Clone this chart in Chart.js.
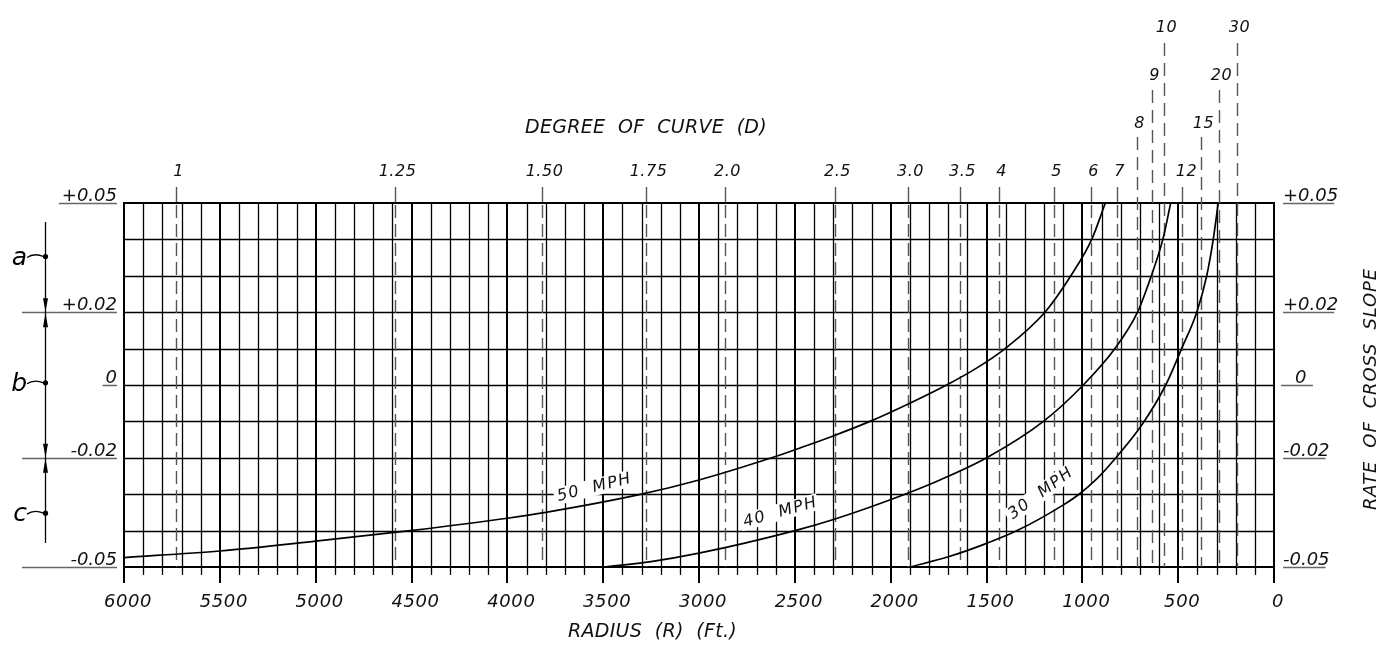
<!DOCTYPE html>
<html>
<head>
<meta charset="utf-8">
<script src="https://cdn.jsdelivr.net/npm/chart.js@4.4.0/dist/chart.umd.min.js"></script>
<style>
html, body { margin: 0; padding: 0; background: #fff; }
#wrap { width: 1380px; height: 653px; }
</style>
</head>
<body>
<div id="wrap"><canvas id="chart" width="1380" height="653"></canvas></div>
<script>
// --- data ------------------------------------------------------------
var radiusLabels = [6000, 5500, 5000, 4500, 4000, 3500, 3000, 2500, 2000, 1500, 1000, 500, 0];
var slopeValues = [0.05, 0.02, 0, -0.02, -0.05];
var slopeLabels = ["+0.05", "+0.02", "0", "-0.02", "-0.05"];
var degreeValues = [1, 1.25, 1.5, 1.75, 2, 2.5, 3, 3.5, 4, 5, 6, 7, 8, 9, 10, 12, 15, 20, 30];
var degreeLabels = ["1", "1.25", "1.50", "1.75", "2.0", "2.5", "3.0", "3.5", "4", "5", "6", "7",
    "8", "9", "10", "12", "15", "20", "30"];

// radius (ft) / rate of cross slope for each speed curve
var radius50 = [6000, 5500, 5000, 4507, 4000, 3800, 3300, 3000, 2621, 2473, 2300, 2108, 1900, 1708, 1550, 1403, 1195, 1060, 951, 880];
var slope50 = [-0.0474, -0.0456, -0.0429, -0.0400, -0.0366, -0.0350, -0.0300, -0.0261, -0.0200, -0.0173, -0.0140, -0.0100, -0.0050, 0.0, 0.0047, 0.01, 0.02, 0.03, 0.04, 0.05];
var radius40 = [3500, 3250, 3000, 2499, 2290, 1925, 1743, 1499, 1203, 995, 830, 712, 640, 580, 539];
var slope40 = [-0.05, -0.0485, -0.0462, -0.0400, -0.0368, -0.0300, -0.0261, -0.0200, -0.0100, 0.0, 0.01, 0.02, 0.03, 0.04, 0.05];
var radius30 = [1899, 1700, 1499, 1340, 1101, 1012, 925, 835, 690, 565, 482, 403, 351, 317, 291];
var slope30 = [-0.05, -0.0472, -0.0435, -0.0400, -0.0330, -0.0298, -0.0258, -0.0206, -0.0110, 0.0, 0.01, 0.02, 0.03, 0.04, 0.05];

// --- layout / style ----------------------------------------------------
var FONT = "'DejaVu Sans', sans-serif";
var INK = "#111";
var degreeTier = [0, 0, 0, 0, 0, 0, 0, 0, 0, 0, 0, 0, 1, 2, 3, 0, 1, 2, 3];
var tierBaseline = [176, 128, 80, 32];
var tierLineTop = [187, 137, 90, 43];
var curveLabels = [ // text, radius, slope, angle(deg)
    ["50  MPH", 3545, -0.0282, -14],
    ["40  MPH", 2575, -0.0350, -15.5],
    ["30  MPH", 1215, -0.0298, -36.5]
];

function italic(size) {
    return "italic " + size + "px " + FONT;
}

function crisp(v) {
    return Math.round(v) + 0.5;
}

// draws text stretched (by letter spacing) to a given width
function fitText(ctx, text, left, y, width) {
    ctx.letterSpacing = "0px";
    var natural = ctx.measureText(text).width;
    var ls = (width - natural) / text.length;
    ctx.letterSpacing = ls + "px";
    ctx.textAlign = "left";
    ctx.fillText(text, left, y);
    ctx.letterSpacing = "0px";
}

function line(ctx, x1, y1, x2, y2) {
    ctx.beginPath();
    ctx.moveTo(x1, y1);
    ctx.lineTo(x2, y2);
    ctx.stroke();
}

function drawGrid(chart) {
    var ctx = chart.ctx, area = chart.chartArea;
    var xs = chart.scales.x, ys = chart.scales.y;
    ctx.strokeStyle = "#000";

    // horizontal lines, every 0.01
    for (var k = -5; k <= 5; k++) {
        var y = ys.getPixelForValue(k / 100);
        var edge = (k === 5 || k === -5);
        ctx.lineWidth = edge ? 2 : 1.3;
        y = edge ? Math.round(y) : crisp(y);
        line(ctx, area.left - 1, y, area.right + 1, y);
    }
    // vertical lines, every 100 ft, heavier every 500 ft
    for (var r = 0; r <= 6000; r += 100) {
        var x = xs.getPixelForValue(r);
        var major = r % 500 === 0;
        ctx.lineWidth = major ? 2 : 1.3;
        x = major ? Math.round(x) : crisp(x);
        line(ctx, x, area.top, x, area.bottom + (major ? 16 : 8));
    }
}

function drawDegreeScale(chart) {
    var ctx = chart.ctx, area = chart.chartArea, xs = chart.scales.x;
    ctx.font = italic(16);
    ctx.textAlign = "center";
    ctx.textBaseline = "alphabetic";
    degreeValues.forEach(function (d, i) {
        var x = crisp(xs.getPixelForValue(5729.58 / d));
        var tier = degreeTier[i];
        ctx.strokeStyle = "#555";
        ctx.lineWidth = 1.4;
        if (tier === 0) {
            ctx.setLineDash([]);
            line(ctx, x, tierLineTop[0], x, area.top - 1);
            ctx.setLineDash([13, 6]);
            line(ctx, x, area.top + 2, x, area.bottom);
        } else {
            ctx.setLineDash([13, 7]);
            line(ctx, x, tierLineTop[tier], x, area.bottom);
        }
        ctx.setLineDash([]);
        ctx.fillStyle = INK;
        ctx.letterSpacing = "0.5px";
        ctx.fillText(degreeLabels[i], x + (tier === 0 && d === 12 ? 4 : 2), tierBaseline[tier]);
        ctx.letterSpacing = "0px";
    });
    ctx.font = italic(19);
    ctx.fillStyle = INK;
    fitText(ctx, "DEGREE  OF  CURVE  (D)", 525, 133, 242);
}

function drawRadiusScale(chart) {
    var ctx = chart.ctx, xs = chart.scales.x;
    ctx.font = italic(18);
    ctx.fillStyle = INK;
    ctx.textAlign = "center";
    ctx.textBaseline = "alphabetic";
    ctx.letterSpacing = "0.6px";
    radiusLabels.forEach(function (r) {
        ctx.fillText(String(r), xs.getPixelForValue(r) + 4, 607);
    });
    ctx.letterSpacing = "0px";
    ctx.font = italic(19);
    fitText(ctx, "RADIUS  (R)  (Ft.)", 568, 637, 169);
}

function drawSlopeScales(chart) {
    var ctx = chart.ctx, area = chart.chartArea, ys = chart.scales.y;
    ctx.font = italic(18);
    ctx.textBaseline = "alphabetic";
    slopeValues.forEach(function (v, i) {
        var y = Math.round(ys.getPixelForValue(v)) + 0.5;
        var txt = slopeLabels[i];
        var w = ctx.measureText(txt).width;
        var longLeft = (v === 0.02 || v === -0.02 || v === -0.05);
        ctx.strokeStyle = "#666";
        ctx.lineWidth = 1.5;
        // left side
        line(ctx, longLeft ? 22 : area.left - 8 - w - 2, y, area.left - 7, y);
        // right side
        var rx = area.right + 9;
        if (v === 0) {
            line(ctx, rx - 2, y, rx + 30, y);
        } else {
            line(ctx, rx, y, rx + w - 4, y);
        }
        ctx.fillStyle = INK;
        ctx.textAlign = "right";
        ctx.fillText(txt, area.left - 7, y - 2.5);
        ctx.textAlign = "left";
        ctx.fillText(txt, v === 0 ? rx + 12 : rx, y - 2.5);
    });

    // rotated right-hand title
    ctx.save();
    ctx.translate(1376, 510);
    ctx.rotate(-Math.PI / 2);
    ctx.font = italic(18);
    ctx.fillStyle = INK;
    fitText(ctx, "RATE  OF  CROSS  SLOPE", 0, 0, 242);
    ctx.restore();
}

function drawBands(chart) {
    // a / b / c brackets on the left
    var ctx = chart.ctx, ys = chart.scales.y;
    var x = 45.5;
    ctx.strokeStyle = "#000";
    ctx.fillStyle = "#000";
    ctx.lineWidth = 1.3;
    line(ctx, x, ys.getPixelForValue(0.0448), x, ys.getPixelForValue(-0.0434));
    [0.02, -0.02].forEach(function (v) {
        var y = ys.getPixelForValue(v);
        ctx.beginPath();
        ctx.moveTo(x, y - 0.5); ctx.lineTo(x - 2.5, y - 14); ctx.lineTo(x + 2.5, y - 14); ctx.closePath(); ctx.fill();
        ctx.beginPath();
        ctx.moveTo(x, y + 0.5); ctx.lineTo(x - 2.5, y + 15); ctx.lineTo(x + 2.5, y + 15); ctx.closePath(); ctx.fill();
    });
    ctx.font = italic(25);
    ctx.textAlign = "right";
    ctx.textBaseline = "alphabetic";
    [["a", 0.0353], ["b", 0.0006], ["c", -0.0352]].forEach(function (b) {
        var y = ys.getPixelForValue(b[1]);
        ctx.beginPath();
        ctx.arc(x, y, 2.6, 0, Math.PI * 2);
        ctx.fill();
        ctx.beginPath();
        ctx.moveTo(27, y + 1);
        ctx.quadraticCurveTo(34, y - 4, x - 2, y);
        ctx.stroke();
        ctx.fillText(b[0], 27, y + 8);
    });
}

function drawCurveLabels(chart) {
    var ctx = chart.ctx, xs = chart.scales.x, ys = chart.scales.y;
    curveLabels.forEach(function (c) {
        ctx.save();
        ctx.translate(xs.getPixelForValue(c[1]), ys.getPixelForValue(c[2]));
        ctx.rotate(c[3] * Math.PI / 180);
        ctx.font = italic(16);
        ctx.letterSpacing = "1.5px";
        var w = ctx.measureText(c[0]).width;
        ctx.fillStyle = "#fff";
        ctx.fillRect(-w / 2 - 3, -9, w + 4, 17);
        ctx.fillStyle = INK;
        ctx.textAlign = "center";
        ctx.textBaseline = "middle";
        ctx.fillText(c[0], 0, 0);
        ctx.restore();
    });
}

var nomographPlugin = {
    id: "nomograph",
    beforeDatasetsDraw: function (chart) {
        var ctx = chart.ctx;
        ctx.save();
        drawGrid(chart);
        drawDegreeScale(chart);
        drawRadiusScale(chart);
        drawSlopeScales(chart);
        drawBands(chart);
        drawCurveLabels(chart);
        ctx.restore();
    }
};

// ----------------------------------------------------------------------
function makeCurve(label, radii, slopes) {
    var pts = radii.map(function (r, i) {
        return {x: r, y: slopes[i]};
    });
    return {
        label: label,
        data: pts,
        showLine: true,
        borderColor: "#000",
        borderWidth: 1.7,
        pointRadius: 0,
        fill: false,
        cubicInterpolationMode: "monotone"
    };
}

new Chart(document.getElementById("chart"), {
    type: "scatter",
    data: {
        datasets: [
            makeCurve("50 MPH", radius50, slope50),
            makeCurve("40 MPH", radius40, slope40),
            makeCurve("30 MPH", radius30, slope30)
        ]
    },
    options: {
        responsive: false,
        animation: false,
        devicePixelRatio: 1,
        layout: {padding: {left: 124, right: 106, top: 203, bottom: 86}},
        scales: {
            x: {type: "linear", min: 0, max: 6000, reverse: true, display: false},
            y: {type: "linear", min: -0.05, max: 0.05, display: false}
        },
        plugins: {
            legend: {display: false},
            tooltip: {enabled: false}
        }
    },
    plugins: [nomographPlugin]
});
</script>
</body>
</html>
